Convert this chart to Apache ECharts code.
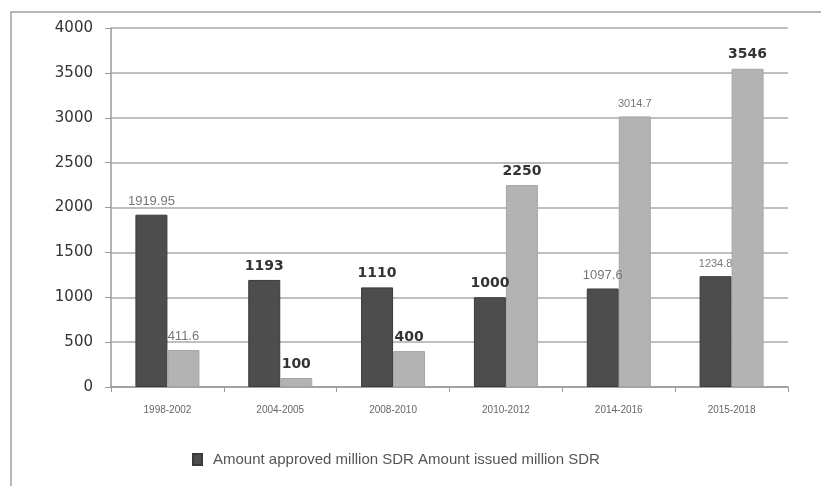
<!DOCTYPE html>
<html><head><meta charset="utf-8">
<script src="https://cdn.jsdelivr.net/npm/echarts@6/dist/echarts.min.js"></script>
<style>html,body{margin:0;padding:0;background:#fff}#c{width:821px;height:486px}</style>
</head><body><div id="c"></div>
<script>
const categories = ['1998-2002','2004-2005','2008-2010','2010-2012','2014-2016','2015-2018'];
const approved = [1919.95, 1193, 1110, 1000, 1097.6, 1234.8];
const issued = [411.6, 100, 400, 2250, 3014.7, 3546];
const approvedLabelKind = ['mid', 'big', 'big', 'big', 'mid', 'small'];
const issuedLabelKind = ['mid', 'big', 'big', 'big', 'small', 'big'];
const seriesNames = ['Amount approved million SDR', 'Amount issued million SDR'];

const labelStyles = {
  small: {fontSize: 11, color: '#777', fontFamily: 'Liberation Sans, Arial, sans-serif', fontWeight: 'normal'},
  mid: {fontSize: 13, color: '#777', fontFamily: 'Liberation Sans, Arial, sans-serif', fontWeight: 'normal'},
  big: {fontSize: 14, color: '#333', fontFamily: 'DejaVu Sans, Verdana, sans-serif', fontWeight: 'bold'}
};
function mk(vals, kinds) {
  return vals.map((v, i) => ({value: v, label: Object.assign({show: true, position: 'top', distance: 7}, labelStyles[kinds[i]])}));
}
const chart = echarts.init(document.getElementById('c'));
chart.setOption({
  animation: false,
  graphic: [{type: 'rect', shape: {x: 11, y: 12, width: 830, height: 500}, style: {fill: 'none', stroke: '#a0a0a0', lineWidth: 1.5}, silent: true}],
  grid: {left: 111, right: 33, top: 28, bottom: 99},
  legend: {
    data: [seriesNames[0]], bottom: 14, left: 187, itemWidth: 9, itemHeight: 11, itemGap: 10,
    icon: 'rect',
    formatter: () => seriesNames.join(' '),
    textStyle: {fontSize: 15, color: '#555', fontFamily: 'Liberation Sans, Arial, sans-serif', padding: [0, 0, 0, 6]}
  },
  xAxis: {
    type: 'category', data: categories,
    axisLine: {lineStyle: {color: '#999', width: 1.5}},
    axisTick: {show: true, length: 5, lineStyle: {color: '#999'}},
    axisLabel: {fontSize: 10, color: '#666', margin: 18, fontFamily: 'Liberation Sans, Arial, sans-serif'}
  },
  yAxis: {
    type: 'value', min: 0, max: 4000, interval: 500,
    axisLine: {show: true, lineStyle: {color: '#999', width: 1.5}},
    axisTick: {show: true, length: 6, lineStyle: {color: '#999'}},
    axisLabel: {fontSize: 15, color: '#333', margin: 18, fontFamily: 'DejaVu Sans, Verdana, sans-serif', formatter: v => String(v)},
    splitLine: {lineStyle: {color: '#aaa', width: 1.5}}
  },
  series: [
    {name: seriesNames[0], type: 'bar', data: mk(approved, approvedLabelKind), barWidth: 32, barGap: '0%',
     itemStyle: {color: '#4d4d4d', borderColor: '#3a3a3a', borderWidth: 1}},
    {name: seriesNames[1], type: 'bar', data: mk(issued, issuedLabelKind), barWidth: 32, barGap: '0%',
     itemStyle: {color: '#b3b3b3', borderColor: '#a5a5a5', borderWidth: 1}}
  ]
});
</script></body></html>
